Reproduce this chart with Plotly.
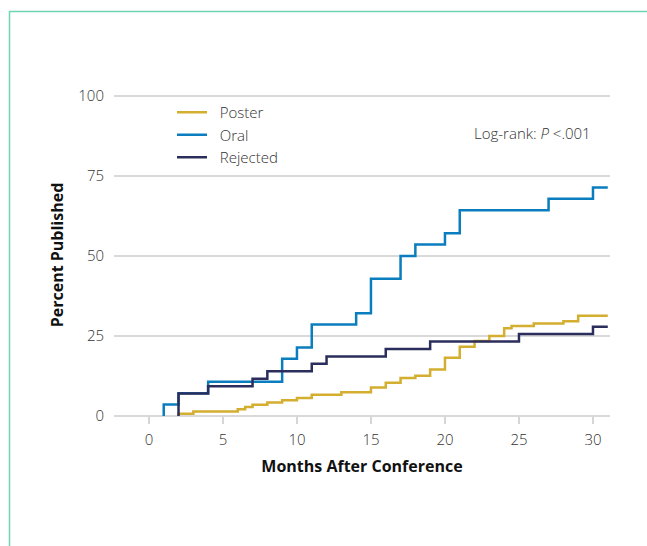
import plotly.graph_objects as go

# Data (months after conference, cumulative percent published)
poster_x = [2, 3, 6, 6.5, 7, 8, 9, 10, 11, 13, 15, 16, 17, 18, 19, 20, 21, 22, 23, 24, 24.5, 26, 28, 29, 31]
poster_y = [0.7, 1.4, 2.1, 2.8, 3.5, 4.2, 4.9, 5.6, 6.6, 7.4, 8.9, 10.4, 11.9, 12.6, 14.5, 18.2, 21.6, 23.4, 25.0, 27.4, 28.1, 28.9, 29.6, 31.3, 31.3]

oral_x = [1, 2, 4, 9, 10, 11, 14, 15, 17, 18, 20, 21, 27, 30, 31]
oral_y = [3.6, 7.1, 10.7, 17.9, 21.4, 28.6, 32.1, 42.9, 50.0, 53.6, 57.1, 64.3, 67.9, 71.4, 71.4]

rejected_x = [2, 4, 7, 8, 11, 12, 16, 19, 25, 30, 31]
rejected_y = [7.0, 9.3, 11.6, 14.0, 16.3, 18.6, 20.9, 23.3, 25.6, 27.9, 27.9]

series_names = ["Poster", "Oral", "Rejected"]
x_ticks = [0, 5, 10, 15, 20, 25, 30]
y_ticks = [0, 25, 50, 75, 100]

colors = ["#D4AE2F", "#0A7DBE", "#2B2E5C"]

fig = go.Figure()
for name, xs, ys, c in zip(series_names, [poster_x, oral_x, rejected_x],
                           [poster_y, oral_y, rejected_y], colors):
    fig.add_trace(go.Scatter(
        x=[xs[0]] + xs, y=[0] + ys, mode="lines", name="&nbsp;&nbsp;" + name,
        line=dict(color=c, width=2.5, shape="hv"),
    ))

FONT = "Open Sans"
W, H = 647, 546
L, R, T, B = 114, 37, 94, 130
pw = W - L - R
ph = H - T - B

def px_to_paper_x(px):
    return (px - L) / pw

def px_to_paper_y(py):
    return (H - B - py) / ph

fig.update_layout(
    width=W, height=H,
    margin=dict(l=L, r=R, t=T, b=B),
    paper_bgcolor="white", plot_bgcolor="white",
    font=dict(family=FONT, color="#222"),
    showlegend=True,
    legend=dict(
        x=px_to_paper_x(172), y=px_to_paper_y(96), xanchor="left", yanchor="top",
        font=dict(family=FONT, size=15, color="#333", weight=300),
        bgcolor="rgba(0,0,0,0)", itemwidth=30,
    ),
    xaxis=dict(
        range=[-2.36, 31.15], tickvals=x_ticks, ticktext=[str(v) for v in x_ticks],
        showgrid=False, zeroline=False, showline=False,
        ticks="outside", ticklen=7, tickwidth=1.5, tickcolor="#d6d6d6",
        ticklabelstandoff=3,
        tickfont=dict(family=FONT, size=15, color="#333", weight=300),
        title=dict(text="Months After Conference", standoff=12,
                   font=dict(family=FONT, size=16, color="#111", weight=700)),
    ),
    yaxis=dict(
        range=[0, 100.6], tickvals=y_ticks, ticktext=[str(v) for v in y_ticks],
        showgrid=True, gridcolor="#d9d9d9", gridwidth=1.5,
        zeroline=True, zerolinecolor="#d9d9d9", zerolinewidth=1.5,
        showline=False, ticks="", ticklabelstandoff=9,
        tickfont=dict(family=FONT, size=15, color="#333", weight=300),
        title=dict(text="Percent Published", standoff=10,
                   font=dict(family=FONT, size=16, color="#111", weight=700)),
    ),
)

fig.add_annotation(
    x=px_to_paper_x(593), y=px_to_paper_y(133), xref="paper", yref="paper",
    xanchor="right", yanchor="middle", showarrow=False,
    text="Log-rank: <i>P</i> <.001",
    font=dict(family=FONT, size=15, color="#333", weight=300),
)

# decorative green frame (left and top edges)
fig.add_shape(type="line", xref="paper", yref="paper",
              x0=px_to_paper_x(9.5), x1=px_to_paper_x(9.5),
              y0=px_to_paper_y(11), y1=px_to_paper_y(560),
              line=dict(color="#6FD4B2", width=1.5))
fig.add_shape(type="line", xref="paper", yref="paper",
              x0=px_to_paper_x(9), x1=px_to_paper_x(660),
              y0=px_to_paper_y(11.5), y1=px_to_paper_y(11.5),
              line=dict(color="#6FD4B2", width=1.5))

fig.write_html("out.html", config={"displayModeBar": False},
               post_script="document.body.style.margin='0px';document.body.style.overflow='hidden';")
